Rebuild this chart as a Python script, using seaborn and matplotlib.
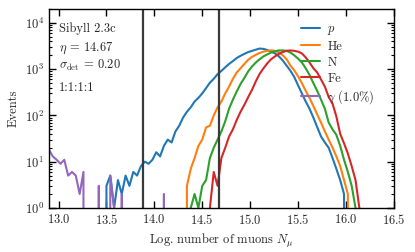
import seaborn as sns
import matplotlib.pyplot as plt
import numpy as np
import pandas as pd

# bin centres (log10 N_mu), step 0.04
bin_lo = 12.90
bin_step = 0.04
n_bins = 86

p_counts = [0]*14 + [
    0, 3, 5, 1, 4, 2, 5, 3, 6, 5,
    8, 10, 9, 11, 16, 13, 22, 30, 26, 45,
    60, 90, 120, 150, 200, 240, 300, 390, 510, 620,
    780, 920, 1100, 1300, 1500, 1750, 1950, 2150, 2350, 2500,
    2650, 2800, 2750, 2600, 2400, 2200, 1900, 1550, 1200, 930,
    680, 450, 300, 200, 140, 90, 56, 35, 26, 20,
    12, 7, 4, 2, 0, 0, 0, 0, 0, 0,
    0, 0]
he_counts = [0]*35 + [
    0, 3, 7, 12, 22, 30, 55, 60, 100, 150,
    200, 300, 420, 620, 850, 1050, 1300, 1600, 1850, 2050,
    2250, 2400, 2500, 2550, 2500, 2300, 2000, 1650, 1200, 950,
    700, 500, 340, 240, 160, 105, 70, 45, 30, 20,
    13, 8, 4, 2, 0, 0, 0, 0, 0, 0,
    0]
n_counts = [0]*36 + [
    0, 1, 2, 1, 3, 4, 12, 20, 30, 45,
    75, 140, 220, 330, 480, 650, 900, 1150, 1400, 1650,
    1900, 2100, 2300, 2450, 2550, 2550, 2500, 2300, 2000, 1700,
    1400, 1050, 750, 500, 340, 220, 140, 70, 50, 38,
    22, 11, 6, 3, 1, 0, 0, 0, 0, 0]
fe_counts = [0]*41 + [
    0, 1, 6, 3, 12, 20, 35, 50, 80, 120,
    170, 250, 360, 550, 800, 1050, 1350, 1650, 1900, 2150,
    2350, 2500, 2550, 2500, 2400, 2200, 1800, 1400, 1050, 850,
    600, 420, 250, 180, 95, 40, 25, 15, 8, 4,
    1, 0, 0, 0, 0]
gamma_counts = [
    18, 13, 11, 9, 11, 5, 6, 5, 2, 6,
    0, 0, 0, 3, 0, 0, 5, 1, 0, 2,
    0, 0, 0, 0, 0, 0, 0, 0, 0, 0,
    2, 0] + [0]*54

names = ["$p$", "He", "N", "Fe", r"$\gamma$ (1.0%)"]
colors = ["#1f77b4", "#ff7f0e", "#2ca02c", "#d62728", "#9467bd"]
cut_lines = [13.88, 14.67]

x = bin_lo + bin_step*np.arange(n_bins)
series = [p_counts, he_counts, n_counts, fe_counts, gamma_counts]

sns.set_style("ticks")
plt.rcParams.update({
    "font.family": "serif",
    "font.serif": ["cmr10", "DejaVu Serif"],
    "mathtext.fontset": "cm",
    "axes.formatter.use_mathtext": True,
    "font.size": 9,
    "axes.unicode_minus": False,
})

fig, ax = plt.subplots(figsize=(4.15, 2.52), dpi=100)
fig.subplots_adjust(left=0.118, right=0.949, top=0.964, bottom=0.175)

for name, col, y in zip(names, colors, series):
    df = pd.DataFrame({"x": x, "y": np.array(y, dtype=float)})
    sns.lineplot(data=df, x="x", y="y", ax=ax, color=col, lw=1.5,
                 estimator=None, label=name)

for c in cut_lines:
    ax.axvline(c, color="#3a3a3a", lw=1.6)

ax.set_yscale("log")
ax.set_xlim(12.9, 16.5)
ax.set_ylim(1, 2e4)
ax.set_xticks([13.0, 13.5, 14.0, 14.5, 15.0, 15.5, 16.0, 16.5])
ax.set_xlabel(r"Log. number of muons $N_\mu$", fontsize=9)
ax.set_ylabel("Events", fontsize=9)
ax.tick_params(which="both", direction="in", top=True, right=True,
               labelsize=9, color="black")
ax.tick_params(which="major", length=5, width=1)
ax.tick_params(which="minor", length=2.5, width=0.8)
ax.tick_params(axis="x", which="minor", bottom=False, top=False)
for s in ax.spines.values():
    s.set_color("black")
    s.set_linewidth(1)

ax.legend(loc="upper right", bbox_to_anchor=(0.97, 0.975), frameon=False,
          fontsize=9, handlelength=1.5, handletextpad=0.6,
          labelspacing=0.3, borderaxespad=0.3)

info = ["Sibyll 2.3c", r"$\eta$ = 14.67", r"$\sigma_\mathrm{det}$ = 0.20", "1:1:1:1"]
info_y = [0.90, 0.805, 0.715, 0.605]
for t, yy in zip(info, info_y):
    ax.text(0.03, yy, t, transform=ax.transAxes, va="center",
            ha="left", fontsize=9)

fig.savefig("out.png", dpi=100)
